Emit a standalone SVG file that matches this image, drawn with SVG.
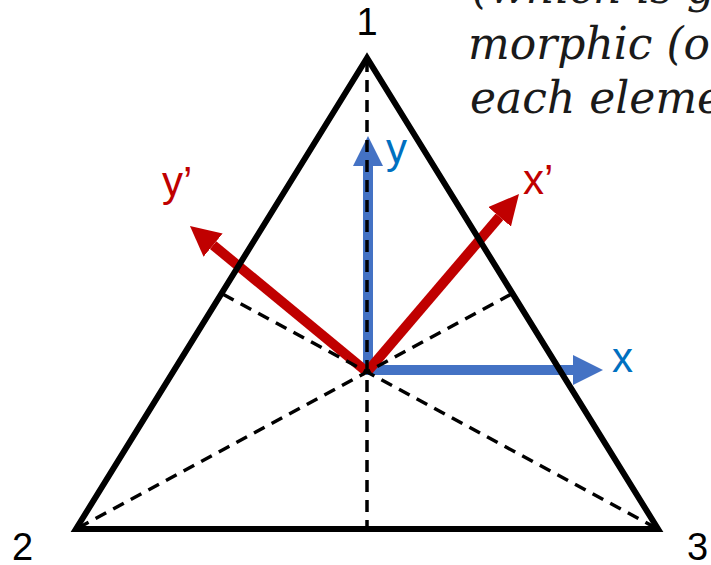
<svg xmlns="http://www.w3.org/2000/svg" width="711" height="565" viewBox="0 0 711 565">
<style>
.lbl{font-family:"Liberation Sans",Arial,sans-serif;font-size:38px}
.ax{font-size:42px}
.tex{font-family:"DejaVu Serif","Liberation Serif",serif;font-style:italic;font-size:44px;fill:#1a1a1a}
.blue{stroke:#4472C4;stroke-width:10;fill:none}
.red{stroke:#C00000;stroke-width:10;fill:none}
.dash{stroke:#000;stroke-width:3.5;stroke-dasharray:12 8;fill:none}
</style>
<defs>
<marker id="hb" markerUnits="userSpaceOnUse" markerWidth="30" markerHeight="30" refX="0" refY="15" orient="auto" viewBox="0 0 30 30"><path d="M0,0 L30,15 L0,30 z" fill="#4472C4"/></marker>
<marker id="hr" markerUnits="userSpaceOnUse" markerWidth="30" markerHeight="30" refX="0" refY="15" orient="auto" viewBox="0 0 30 30"><path d="M0,0 L30,15 L0,30 z" fill="#C00000"/></marker>
</defs>
<rect width="711" height="565" fill="#fff"/>
<g id="caption-text">
<text class="tex" x="472" y="3">(which is group iso-</text>
<text class="tex" x="468" y="59">morphic (or</text>
<text class="tex" x="470" y="113">each element</text>
</g>
<g id="connectors">
<line id="axis-y" class="blue" x1="368" y1="372" x2="368" y2="166" marker-end="url(#hb)"/>
<line id="axis-x" class="blue" x1="366" y1="370" x2="573" y2="370" marker-end="url(#hb)"/>
<line id="axis-xp" class="red" x1="367" y1="372" x2="499.5" y2="216.8" marker-end="url(#hr)"/>
<line id="axis-yp" class="red" x1="367" y1="372" x2="213.1" y2="245.1" marker-end="url(#hr)"/>
<line class="dash" x1="367" y1="60" x2="367" y2="529"/>
<line class="dash" x1="78" y1="528" x2="512.5" y2="293.5"/>
<line class="dash" x1="656" y1="528" x2="221.5" y2="293.5"/>
</g>
<g id="triangle">
<polygon points="367,58 76,529 658,529" fill="none" stroke="#000" stroke-width="6" stroke-linejoin="miter"/>
</g>
<g id="node-1"><text class="lbl" x="367" y="35" text-anchor="middle">1</text></g>
<g id="node-2"><text class="lbl" x="12" y="560">2</text></g>
<g id="node-3"><text class="lbl" x="687" y="560">3</text></g>
<g id="label-y"><text class="lbl ax" x="386" y="163" fill="#0070C0">y</text></g>
<g id="label-x"><text class="lbl ax" x="612" y="372" fill="#0070C0">x</text></g>
<g id="label-xp"><text class="lbl ax" x="523" y="194" fill="#C00000">x’</text></g>
<g id="label-yp"><text class="lbl ax" x="162" y="196" fill="#C00000">y’</text></g>
</svg>
